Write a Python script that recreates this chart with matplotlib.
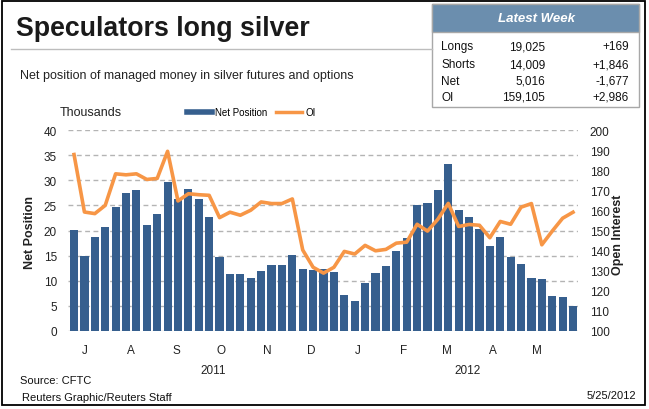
import numpy as np
import pandas as pd
import matplotlib
matplotlib.use("Agg")
import matplotlib.pyplot as plt
import matplotlib.dates as mdates
from matplotlib.lines import Line2D
from matplotlib.patches import Rectangle

plt.rcParams['font.family'] = ['Liberation Sans', 'DejaVu Sans']

# weekly data, Fridays from 24 Jun 2011 to 25 May 2012 (thousands of contracts)
week_start = '2011-06-24'
net_position = [20.1, 14.9, 18.7, 20.7, 24.6, 27.4, 28.0, 21.1, 23.2, 29.6,
                26.2, 28.2, 26.2, 22.6, 14.7, 11.35, 11.35, 10.6, 11.9, 13.1,
                13.1, 15.1, 12.3, 12.1, 12.3, 11.75, 7.2, 6.0, 9.6, 11.55,
                12.9, 15.9, 18.5, 25.0, 25.4, 28.0, 33.3, 24.0, 22.6, 20.3,
                16.9, 18.7, 14.7, 13.3, 10.6, 10.4, 7.0, 6.7, 5.0]
open_interest = [187.8, 159.2, 158.4, 162.5, 178.2, 177.7, 178.2, 175.4, 175.9, 189.4,
                 164.7, 168.3, 167.8, 167.5, 156.4, 159.1, 157.6, 160.1, 164.2, 163.4,
                 163.4, 165.7, 140.3, 131.7, 128.8, 131.7, 139.6, 138.3, 142.6, 139.9,
                 140.6, 143.7, 144.2, 153.1, 149.7, 155.6, 163.5, 152.0, 153.0, 152.6,
                 146.4, 154.5, 153.1, 161.6, 163.4, 142.9, 149.7, 156.1, 159.1]
months = pd.date_range('2011-07-01', '2012-05-01', freq='MS')
years = ['2011', '2012']

table_rows = ['Longs', 'Shorts', 'Net', 'OI']
table_values = ['19,025', '14,009', '5,016', '159,105']
table_changes = ['+169', '+1,846', '-1,677', '+2,986']

bar_color = '#365f8e'
line_color = '#f79646'
grid_color = '#b4b4b4'
header_color = '#6b8eae'

W, H = 649, 410
def fx(px):
    return px / W
def fy(py):
    return 1 - py / H

dates = pd.date_range(week_start, periods=len(net_position), freq='7D')
x = mdates.date2num(dates.to_pydatetime())

fig = plt.figure(figsize=(W / 100, H / 100), dpi=100)

ax = fig.add_axes([fx(68), fy(332), fx(578) - fx(68), (332 - 131) / H])
ax2 = ax.twinx()

bars = ax.bar(x, net_position, width=5.5, color=bar_color, zorder=2)
line, = ax2.plot(x, open_interest, color=line_color, lw=2.6)

ax.set_xlim(x[0] - 0.58 * 7, x[-1] + 0.48 * 7)
ax.set_ylim(0, 40)
ax2.set_ylim(100, 200)
ax.set_yticks(np.arange(0, 41, 5))
ax2.set_yticks(np.arange(100, 201, 10))
ax.set_axisbelow(True)
ax.yaxis.grid(True, color=grid_color, lw=1.0, ls=(0, (3.5, 2.5)))

month_x = mdates.date2num(months.to_pydatetime())
ax.set_xticks(month_x)
ax.set_xticklabels([m.strftime('%b')[0] for m in months])

for a in (ax, ax2):
    for s in a.spines.values():
        s.set_visible(False)
    a.tick_params(length=0, labelsize=8.5, colors='#222222')
ax.tick_params(axis='y', pad=8)
ax2.tick_params(axis='y', pad=8.5)
ax.tick_params(axis='x', pad=9)

# year labels centred under their part of the axis
jan1 = mdates.date2num(pd.Timestamp('2012-01-01').to_pydatetime())
xl = ax.get_xlim()
year_x = [(xl[0] + jan1) / 2, (jan1 + xl[1]) / 2]
for yx, yr in zip(year_x, years):
    ax.text(yx, -0.195, yr, transform=ax.get_xaxis_transform(),
            ha='center', va='center', fontsize=8.5, color='#222222')

fig.text(fx(30), fy(233), 'Net Position', rotation=90, ha='center', va='center',
         fontsize=9, fontweight='bold', color='#222222')
fig.text(fx(618), fy(235), 'Open Interest', rotation=90, ha='center', va='center',
         fontsize=9, fontweight='bold', color='#222222')

# legend
fig.legend(handles=[Line2D([], [], color=bar_color, lw=4),
                    Line2D([], [], color=line_color, lw=2.5)],
           labels=['Net Position', 'OI'], loc='center',
           bbox_to_anchor=(fx(251), fy(113)), ncol=2, frameon=False,
           fontsize=7, handlelength=2.6, handletextpad=0.35, columnspacing=0.9)
fig.text(fx(60), fy(113), 'Thousands', ha='left', va='center', fontsize=9, color='#222222')

# titles
fig.text(fx(16), fy(29), 'Speculators long silver', ha='left', va='center',
         fontsize=19.3, fontweight='bold', color='#1a1a1a')
fig.add_artist(Line2D([fx(11), fx(432)], [fy(50), fy(50)], color='#bdbdbd', lw=1))
fig.text(fx(20), fy(76), 'Net position of managed money in silver futures and options',
         ha='left', va='center', fontsize=9, color='#222222')

# latest week table
fig.add_artist(Rectangle((fx(432), fy(108)), fx(639) - fx(432), (108 - 5) / H,
                         transform=fig.transFigure, facecolor='white',
                         edgecolor='#a8a8a8', lw=1))
fig.add_artist(Rectangle((fx(432), fy(33)), fx(639) - fx(432), (33 - 5) / H,
                         transform=fig.transFigure, facecolor=header_color,
                         edgecolor='#a8a8a8', lw=1))
fig.text(fx(536), fy(19), 'Latest Week', ha='center', va='center', fontsize=9.5,
         fontweight='bold', fontstyle='italic', color='white')
row_y = [47, 65, 82, 98]
for ry, lab, val, chg in zip(row_y, table_rows, table_values, table_changes):
    fig.text(fx(441), fy(ry), lab, ha='left', va='center', fontsize=8.5, color='#111111')
    fig.text(fx(545), fy(ry), val, ha='right', va='center', fontsize=8.5, color='#111111')
    fig.text(fx(629), fy(ry), chg, ha='right', va='center', fontsize=8.5, color='#111111')

# footer
fig.text(fx(20), fy(381), 'Source: CFTC', ha='left', va='center', fontsize=8, color='#111111')
fig.text(fx(22), fy(398), 'Reuters Graphic/Reuters Staff', ha='left', va='center',
         fontsize=8, color='#111111')
fig.text(fx(636), fy(396), '5/25/2012', ha='right', va='center', fontsize=8, color='#111111')

# outer frame
fig.add_artist(Rectangle((fx(2), fy(406)), fx(645) - fx(2), (406 - 2) / H,
                         transform=fig.transFigure, fill=False, edgecolor='black', lw=1.3))

fig.savefig('out.png', dpi=100)
